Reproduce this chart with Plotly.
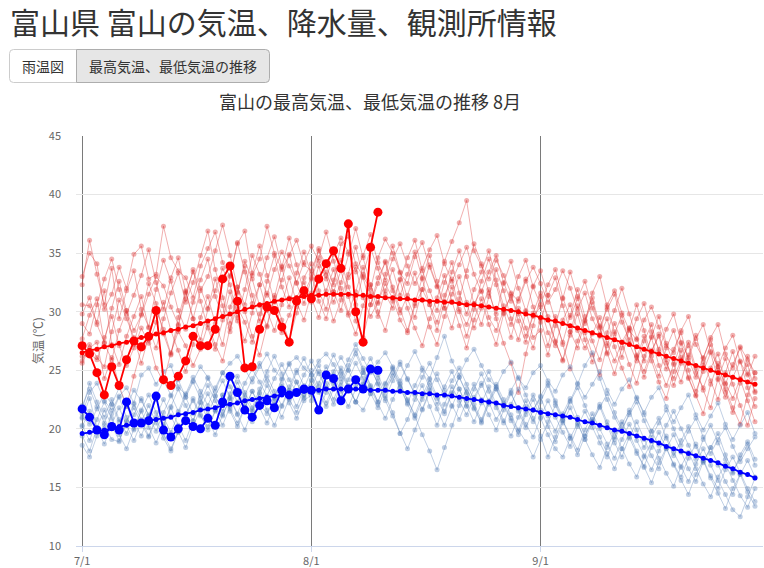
import plotly.graph_objects as go
import pandas as pd

# ---------------- data ----------------
dates = pd.date_range("2025-07-01", "2025-09-30", freq="D")  # 92 days
tick_dates = ["2025-07-01", "2025-08-01", "2025-09-01"]
tick_labels = ["7/1", "8/1", "9/1"]
y_ticks = [10, 15, 20, 25, 30, 35, 40, 45]

# normal (平年値) max / min
normal_max = [26.5, 26.7, 26.8, 27.0, 27.1, 27.3, 27.4, 27.6, 27.8, 27.9, 28.1, 28.2, 28.4, 28.5, 28.7, 28.8,
              29.0, 29.2, 29.4, 29.6, 29.8, 30.0, 30.2, 30.4, 30.6, 30.7, 30.9, 31.0, 31.1, 31.2, 31.3,
              31.4, 31.4, 31.5, 31.5, 31.5, 31.5, 31.4, 31.4, 31.3, 31.3, 31.2, 31.2, 31.1, 31.1, 31.0,
              31.0, 30.9, 30.9, 30.8, 30.8, 30.7, 30.6, 30.6, 30.5, 30.4, 30.3, 30.2, 30.1, 30.0, 29.8, 29.7,
              29.5, 29.3, 29.2, 29.0, 28.8, 28.6, 28.4, 28.2, 28.0, 27.8, 27.6, 27.4, 27.2, 27.0, 26.8,
              26.6, 26.4, 26.2, 26.0, 25.8, 25.6, 25.4, 25.2, 25.0, 24.8, 24.6, 24.4, 24.2, 24.0, 23.8]
normal_min = [19.6, 19.7, 19.8, 19.9, 20.0, 20.2, 20.3, 20.4, 20.5, 20.7, 20.8, 20.9, 21.0, 21.2, 21.3, 21.4,
              21.6, 21.7, 21.8, 22.0, 22.1, 22.2, 22.4, 22.5, 22.6, 22.7, 22.8, 22.9, 23.0, 23.1, 23.2,
              23.3, 23.3, 23.4, 23.4, 23.4, 23.4, 23.4, 23.4, 23.3, 23.3, 23.3, 23.2, 23.2, 23.1, 23.1,
              23.0, 23.0, 22.9, 22.9, 22.8, 22.7, 22.6, 22.5, 22.4, 22.3, 22.2, 22.0, 21.9, 21.8, 21.7, 21.6,
              21.4, 21.3, 21.2, 21.1, 21.0, 20.8, 20.6, 20.5, 20.3, 20.1, 19.9, 19.8, 19.6, 19.4, 19.2,
              19.0, 18.8, 18.5, 18.3, 18.1, 17.9, 17.7, 17.5, 17.3, 17.1, 16.8, 16.6, 16.3, 16.1, 15.8]

# current year (7/1 - 8/10)
cur_max = [27.1, 26.4, 24.8, 22.9, 25.3, 23.7, 25.9, 27.5, 27.0, 27.9, 30.1, 24.2, 23.7, 24.5, 25.8, 27.9,
           27.1, 27.1, 28.5, 32.8, 33.9, 30.9, 25.2, 25.3, 28.5, 30.4, 30.1, 28.7, 27.4, 30.9, 31.8,
           31.1, 32.8, 34.1, 35.2, 33.7, 37.5, 30.0, 27.4, 35.5, 38.5]
cur_min = [21.7, 21.0, 19.9, 19.5, 20.2, 19.9, 22.3, 20.5, 20.5, 20.7, 22.8, 19.9, 19.3, 20.0, 20.7, 20.2,
           20.0, 20.9, 20.3, 22.3, 24.5, 23.1, 21.6, 21.0, 22.0, 22.4, 21.8, 23.3, 22.9, 23.1, 23.4,
           23.3, 21.6, 24.6, 24.3, 22.4, 23.4, 24.2, 23.4, 25.1, 25.0]

# past years max
max_2016 = [33.0, 35.0, 34.1, 30.2, 31.5, 33.8, 32.0, 34.9, 35.6, 32.8, 33.2, 37.3, 34.6, 33.5, 32.9, 31.2,
            33.9, 35.4, 36.8, 34.2, 33.0, 35.8, 36.9, 33.1, 34.5, 37.3, 35.0, 33.6, 34.8, 36.1, 34.0,
            33.5, 35.2, 34.0, 32.3, 35.8, 36.4, 34.1, 33.0, 31.9, 34.6, 36.2, 35.0, 33.3, 32.4, 34.7,
            35.9, 33.8, 32.1, 34.3, 36.0, 37.6, 39.5, 35.2, 33.9, 32.8, 34.4, 33.1, 31.6, 30.9, 32.6, 33.8,
            32.4, 30.8, 31.9, 33.5, 32.0, 30.2, 31.6, 29.4, 28.1, 30.6, 31.8, 29.9, 28.4, 27.6, 29.3,
            30.4, 28.7, 27.1, 26.5, 28.4, 29.6, 27.2, 26.0, 27.8, 28.9, 26.4, 25.2, 27.0, 25.9, 24.8]
max_2017 = [25.6, 26.9, 27.4, 24.3, 26.1, 23.7, 21.9, 24.5, 26.8, 27.6, 25.2, 24.0, 26.5, 28.3, 27.1, 25.4,
            26.8, 28.9, 27.2, 25.8, 28.6, 30.4, 29.1, 27.4, 29.8, 31.6, 30.3, 28.2, 29.7, 31.2, 32.5,
            30.8, 32.6, 33.4, 31.7, 30.1, 32.9, 33.8, 31.2, 29.6, 30.8, 32.4, 31.1, 29.3, 28.2, 30.5,
            31.9, 30.6, 29.1, 31.4, 32.8, 30.2, 28.9, 30.7, 31.8, 29.5, 28.4, 30.1, 31.3, 29.8, 27.9, 29.6,
            30.4, 28.2, 27.1, 29.3, 30.6, 28.4, 26.9, 28.1, 29.5, 27.3, 25.8, 27.4, 28.6, 26.2, 24.9,
            26.7, 27.9, 25.6, 24.3, 25.9, 27.1, 24.8, 23.5, 25.2, 26.4, 23.9, 22.6, 24.3, 25.5, 23.1]
max_2018 = [29.8, 31.2, 28.9, 27.4, 30.3, 32.6, 30.1, 28.4, 29.7, 31.5, 33.0, 32.2, 30.4, 28.9, 31.6, 33.4,
            32.0, 30.3, 31.8, 33.7, 32.3, 29.5, 31.9, 34.8, 33.2, 31.4, 33.6, 35.1, 33.9, 32.5, 34.2,
            35.6, 34.3, 32.8, 34.9, 36.3, 35.1, 33.4, 34.8, 36.6, 34.2, 32.7, 34.5, 35.8, 33.9, 32.4,
            33.7, 35.3, 36.5, 34.1, 32.6, 34.0, 35.5, 33.2, 31.7, 33.4, 34.8, 32.5, 30.9, 33.0, 34.4, 32.1,
            30.6, 32.3, 33.6, 31.2, 29.5, 31.1, 32.6, 30.3, 28.7, 30.2, 31.5, 29.1, 27.6, 29.4, 30.7,
            28.3, 26.8, 28.5, 29.8, 27.4, 26.1, 27.7, 28.9, 26.6, 25.3, 26.9, 28.0, 25.7, 24.6, 26.2]
max_2019 = [32.3, 36.1, 33.2, 30.6, 33.7, 29.4, 31.8, 33.5, 30.2, 28.7, 31.9, 34.4, 32.6, 30.1, 28.5, 30.8,
            32.7, 34.5, 31.3, 29.6, 33.1, 35.9, 33.4, 30.7, 32.3, 34.6, 36.4, 33.8, 31.2, 30.4, 32.9,
            34.1, 31.8, 30.2, 32.7, 34.4, 32.1, 30.6, 33.2, 35.4, 33.7, 31.5, 30.3, 32.8, 34.6, 36.1,
            33.5, 31.8, 30.1, 32.5, 34.2, 31.6, 29.8, 31.9, 33.4, 35.2, 32.7, 30.5, 28.9, 31.1, 32.8, 30.4,
            29.1, 31.4, 32.9, 30.5, 28.3, 26.9, 29.2, 30.8, 28.6, 26.4, 28.1, 29.7, 27.3, 25.8, 27.5,
            28.9, 26.6, 25.1, 26.8, 28.2, 25.9, 24.4, 26.1, 27.6, 25.3, 23.8, 25.5, 26.9, 24.7, 23.2]
max_2020 = [27.7, 29.7, 31.1, 27.3, 25.9, 28.4, 30.1, 27.2, 29.8, 32.4, 30.7, 28.1, 26.3, 29.5, 31.8, 29.4,
            27.6, 30.2, 32.8, 30.5, 28.3, 31.7, 33.9, 31.4, 29.2, 32.6, 34.8, 32.1, 30.4, 33.3, 35.1,
            33.2, 30.9, 29.4, 31.7, 33.5, 31.3, 29.2, 27.8, 30.6, 32.9, 34.2, 31.8, 29.9, 31.4, 33.3,
            31.0, 28.7, 27.2, 29.6, 31.5, 33.0, 30.8, 28.6, 30.3, 31.9, 29.4, 27.3, 25.6, 23.1, 26.4, 28.8,
            31.3, 29.6, 27.4, 25.9, 28.3, 30.5, 28.2, 26.3, 24.6, 27.1, 29.0, 27.4, 25.5, 23.9, 26.2,
            27.8, 25.4, 23.7, 25.6, 27.3, 25.0, 23.2, 24.9, 26.5, 24.2, 22.7, 24.4, 25.8, 23.5, 21.9]
max_2021 = [30.6, 30.5, 29.1, 31.8, 27.2, 25.5, 27.9, 29.6, 31.3, 28.6, 26.9, 29.4, 31.6, 33.3, 30.8, 32.5,
            34.8, 36.9, 33.6, 31.2, 29.0, 31.6, 34.3, 32.8, 30.5, 28.7, 31.2, 33.9, 36.3, 34.0, 31.6,
            32.9, 35.4, 33.1, 30.8, 32.5, 34.9, 37.1, 34.6, 32.3, 30.7, 33.2, 35.6, 33.4, 31.1, 29.5,
            31.9, 34.0, 32.2, 30.3, 28.6, 31.1, 33.5, 35.8, 34.1, 31.6, 29.8, 32.4, 34.3, 32.0, 30.1, 27.8,
            28.4, 26.3, 28.8, 31.1, 33.4, 31.3, 29.0, 31.6, 33.0, 30.4, 28.3, 26.1, 28.5, 30.6, 28.4,
            26.2, 24.5, 26.9, 28.4, 26.1, 24.3, 22.8, 25.4, 27.2, 25.0, 23.1, 21.4, 23.9, 26.2, 24.3]
max_2022 = [26.2, 26.4, 25.9, 27.8, 29.6, 27.1, 25.4, 26.9, 28.6, 27.3, 29.1, 30.8, 28.4, 26.7, 24.9, 27.2,
            29.5, 31.3, 29.0, 27.2, 30.4, 32.1, 30.0, 27.9, 26.3, 28.8, 31.4, 29.3, 27.5, 29.9, 32.0,
            31.2, 29.5, 31.8, 33.6, 31.4, 29.7, 28.1, 30.5, 32.3, 30.0, 28.4, 30.9, 32.7, 30.3, 28.6,
            27.1, 29.4, 31.2, 33.1, 30.9, 28.8, 26.9, 29.3, 31.1, 28.9, 27.2, 29.8, 31.5, 29.2, 27.4, 29.9,
            31.6, 29.3, 27.5, 25.8, 28.0, 29.8, 27.6, 25.7, 27.9, 29.4, 27.0, 25.2, 23.6, 26.1, 27.9,
            25.8, 24.0, 22.6, 24.9, 26.7, 24.4, 22.9, 21.3, 23.8, 25.6, 23.4, 21.8, 20.4, 22.9, 24.8]
max_2023 = [29.0, 28.1, 30.6, 32.8, 34.5, 31.9, 29.8, 31.4, 33.1, 35.3, 32.5, 30.2, 32.9, 34.6, 31.7, 29.4,
            31.8, 33.0, 35.2, 37.4, 34.8, 32.1, 30.6, 33.3, 35.6, 33.1, 30.8, 32.7, 34.9, 32.4, 30.7,
            32.8, 34.6, 36.8, 34.3, 32.0, 29.9, 31.7, 33.8, 31.5, 29.6, 31.8, 33.6, 31.4, 33.2, 35.1,
            32.8, 30.6, 28.4, 30.9, 33.4, 35.2, 33.0, 30.7, 28.9, 31.3, 33.6, 31.8, 29.4, 27.6, 30.0, 32.2,
            33.5, 31.4, 29.2, 27.4, 29.7, 31.9, 29.6, 27.5, 25.9, 28.2, 30.1, 32.0, 29.8, 27.7, 25.8,
            27.9, 29.6, 27.3, 25.5, 24.0, 26.3, 28.0, 25.7, 24.1, 22.5, 24.8, 26.6, 24.2, 22.4, 20.6]
max_2024 = [25.8, 27.2, 26.1, 25.3, 28.3, 31.0, 29.4, 27.8, 25.6, 27.9, 30.2, 28.5, 26.4, 28.8, 31.1, 33.6,
            30.9, 28.6, 26.8, 29.3, 31.7, 29.2, 27.5, 29.9, 32.3, 30.1, 28.4, 30.6, 32.9, 30.8, 29.3,
            31.6, 33.9, 31.5, 29.2, 31.0, 33.2, 35.5, 32.9, 30.6, 32.4, 34.3, 32.1, 30.2, 28.4, 30.7,
            32.9, 34.8, 32.6, 30.3, 32.1, 30.0, 27.9, 30.2, 32.6, 34.5, 32.3, 29.9, 27.8, 30.3, 28.6, 26.9,
            29.4, 27.1, 29.6, 27.2, 25.1, 27.5, 29.3, 31.2, 28.8, 26.5, 24.7, 26.9, 28.6, 26.3, 24.4,
            26.5, 28.1, 25.9, 23.7, 25.6, 27.4, 25.2, 23.3, 21.8, 24.3, 26.0, 23.8, 22.0, 20.3, 22.6]

# past years min
min_2016 = [21.3, 23.1, 23.9, 22.4, 21.6, 22.8, 23.5, 22.2, 24.6, 25.2, 23.8, 24.9, 25.4, 23.6, 22.9, 24.1,
            25.3, 24.4, 23.2, 24.8, 25.6, 26.2, 25.1, 24.0, 25.3, 26.4, 25.0, 24.3, 25.6, 26.1, 25.2,
            24.6, 25.8, 26.4, 25.5, 24.3, 25.9, 27.2, 26.0, 24.8, 25.7, 26.5, 25.3, 24.1, 25.4, 26.6,
            25.2, 24.3, 26.1, 27.9, 25.8, 24.6, 25.9, 26.8, 25.4, 24.2, 23.6, 24.9, 25.7, 24.3, 23.5, 24.8,
            25.4, 24.1, 23.2, 24.6, 25.3, 23.9, 22.7, 23.8, 24.9, 23.3, 22.1, 23.4, 24.2, 22.6, 21.4,
            22.7, 23.5, 21.9, 20.6, 21.8, 22.9, 21.2, 19.9, 21.1, 22.2, 20.4, 19.1, 20.3, 21.4, 19.6]
min_2017 = [18.6, 17.6, 19.4, 20.3, 19.1, 18.9, 20.6, 21.8, 20.4, 19.3, 20.8, 19.6, 18.3, 19.7, 21.2, 22.4,
            21.1, 20.2, 21.6, 22.9, 21.7, 20.5, 21.8, 23.2, 22.1, 21.3, 22.6, 23.8, 22.5, 21.4, 22.9,
            24.2, 23.1, 21.9, 23.4, 24.7, 23.5, 22.3, 21.6, 23.0, 24.3, 22.8, 21.4, 19.6, 20.8, 22.5,
            23.7, 21.9, 20.3, 22.1, 23.6, 22.4, 21.2, 22.7, 23.9, 22.3, 20.8, 21.9, 23.1, 21.5, 20.1, 21.6,
            22.7, 21.1, 19.8, 21.3, 22.6, 21.0, 19.4, 20.8, 22.1, 20.6, 19.1, 20.4, 21.6, 19.9, 18.4,
            19.8, 20.9, 19.2, 17.7, 19.0, 20.2, 18.5, 17.1, 18.4, 19.6, 17.8, 16.3, 17.5, 18.7, 16.9]
min_2018 = [21.0, 20.4, 21.7, 23.0, 22.1, 20.6, 21.9, 23.3, 22.4, 21.2, 22.8, 24.1, 22.9, 21.5, 23.0, 24.4,
            23.2, 22.0, 23.5, 24.8, 23.6, 22.3, 23.9, 25.1, 24.0, 22.8, 24.3, 25.5, 24.2, 23.1, 24.6,
            25.8, 24.7, 23.4, 24.9, 26.1, 25.0, 23.7, 24.8, 26.0, 24.6, 23.2, 24.5, 25.7, 24.3, 23.0,
            24.4, 25.6, 24.2, 22.8, 24.1, 25.2, 23.8, 22.5, 23.7, 24.9, 23.4, 22.1, 23.3, 24.4, 22.9, 21.6,
            22.8, 23.9, 22.4, 21.0, 22.3, 23.5, 22.0, 20.6, 21.8, 23.0, 21.4, 20.0, 21.2, 22.3, 20.7,
            19.3, 20.5, 21.6, 20.0, 18.6, 19.8, 20.9, 19.3, 17.9, 19.1, 20.1, 18.5, 17.2, 18.3, 19.3]
min_2019 = [20.9, 22.6, 20.1, 19.5, 21.3, 22.7, 21.0, 19.9, 21.6, 22.9, 21.4, 20.2, 21.9, 23.4, 22.0, 20.7,
            22.3, 23.7, 22.4, 21.1, 22.6, 24.0, 22.7, 21.5, 23.1, 24.5, 23.2, 22.0, 23.6, 25.0, 23.7,
            22.4, 23.9, 25.3, 24.0, 22.7, 24.2, 25.6, 24.3, 23.0, 21.8, 23.4, 24.8, 23.5, 22.1, 20.9,
            22.5, 23.9, 22.6, 21.3, 23.0, 24.4, 23.1, 21.8, 20.6, 22.3, 23.6, 22.2, 20.9, 19.8, 21.5, 22.9,
            21.6, 20.2, 18.9, 20.5, 21.8, 20.4, 19.1, 20.6, 21.9, 20.3, 18.8, 17.6, 19.3, 20.6, 19.1,
            17.7, 16.6, 18.3, 19.5, 18.0, 16.6, 15.5, 17.2, 18.4, 16.9, 15.5, 14.4, 16.1, 17.3, 15.9]
min_2020 = [21.6, 23.9, 22.3, 21.0, 22.5, 20.8, 19.6, 21.2, 22.6, 21.1, 19.8, 21.4, 22.8, 24.2, 22.7, 21.3,
            22.9, 24.3, 22.8, 21.5, 23.0, 24.5, 23.1, 21.8, 23.4, 24.9, 26.2, 24.7, 23.3, 24.8, 26.0,
            24.6, 23.2, 24.8, 26.3, 24.9, 23.6, 22.3, 23.8, 25.2, 23.9, 22.6, 24.1, 25.5, 24.2, 22.9,
            21.7, 23.3, 24.7, 23.3, 22.0, 20.8, 22.4, 23.8, 22.5, 21.2, 19.9, 21.6, 23.0, 21.7, 20.4, 19.3,
            21.0, 22.4, 21.0, 19.7, 18.5, 20.2, 21.5, 20.1, 18.8, 17.6, 19.3, 20.6, 19.2, 17.9, 16.8,
            18.4, 19.7, 18.3, 17.0, 15.9, 17.5, 18.7, 17.3, 16.0, 14.9, 16.5, 17.6, 16.2, 14.9, 13.8]
min_2021 = [19.4, 18.1, 20.1, 21.6, 20.3, 19.0, 20.7, 22.1, 20.8, 19.4, 21.0, 22.5, 21.1, 19.7, 18.4, 20.2,
            21.7, 23.0, 21.6, 20.3, 21.9, 23.4, 22.0, 20.6, 22.2, 23.7, 22.4, 21.0, 22.6, 24.0, 22.7,
            23.6, 24.9, 23.5, 22.1, 23.7, 25.0, 26.4, 25.0, 23.6, 22.3, 23.9, 25.2, 23.8, 22.4, 21.1,
            19.5, 18.1, 16.5, 18.4, 20.3, 22.0, 23.4, 22.1, 20.8, 22.4, 23.8, 22.5, 21.2, 19.9, 18.9, 17.6,
            19.1, 20.6, 22.0, 20.7, 19.4, 18.2, 19.9, 21.3, 20.0, 18.7, 17.5, 19.1, 20.4, 19.0, 17.7,
            16.5, 18.1, 19.4, 18.0, 16.7, 15.5, 17.0, 18.3, 16.9, 15.6, 14.4, 13.1, 12.5, 14.2, 15.8]
min_2022 = [20.2, 21.5, 20.0, 18.7, 20.4, 21.8, 20.3, 19.0, 20.6, 22.0, 20.5, 19.2, 18.1, 19.8, 21.2, 22.6,
            21.2, 19.9, 21.5, 22.9, 21.5, 20.2, 21.8, 23.2, 21.8, 20.5, 22.1, 23.6, 22.2, 20.9, 22.4,
            22.9, 21.6, 23.1, 24.6, 23.2, 21.9, 23.4, 24.8, 23.4, 22.1, 20.9, 22.5, 23.9, 22.5, 21.2,
            22.8, 24.2, 22.8, 21.5, 23.1, 24.4, 23.0, 21.7, 20.5, 22.1, 23.4, 22.0, 20.7, 19.5, 21.2, 22.5,
            20.9, 19.5, 18.3, 17.6, 19.2, 20.5, 19.1, 17.8, 16.7, 18.4, 19.7, 18.3, 17.0, 15.9, 17.6,
            18.9, 17.5, 16.2, 15.1, 16.8, 18.0, 16.6, 15.3, 14.2, 15.9, 17.0, 15.6, 14.3, 13.3, 14.9]
min_2023 = [22.0, 23.4, 21.9, 20.5, 22.1, 23.5, 22.0, 20.6, 19.4, 21.1, 22.5, 21.0, 19.7, 21.3, 22.7, 24.0,
            22.6, 21.2, 22.8, 24.1, 22.7, 21.3, 22.9, 24.3, 25.6, 24.1, 22.7, 24.2, 25.5, 24.0, 22.6,
            24.1, 25.4, 23.9, 22.5, 24.0, 25.4, 26.7, 25.2, 23.7, 22.3, 23.8, 25.1, 23.6, 22.2, 23.7,
            25.0, 23.5, 22.1, 23.6, 24.9, 23.4, 21.9, 23.4, 24.7, 23.2, 21.8, 20.5, 22.1, 23.4, 21.9, 20.6,
            22.3, 23.7, 22.2, 20.8, 22.4, 23.8, 25.4, 26.5, 24.3, 22.5, 21.0, 19.8, 21.4, 22.7, 21.2,
            19.8, 18.6, 20.3, 21.5, 20.0, 18.6, 17.4, 19.1, 20.3, 18.8, 17.4, 16.2, 17.8, 18.9, 17.4]
min_2024 = [20.3, 19.0, 20.8, 22.3, 20.9, 19.5, 18.3, 20.0, 21.5, 20.1, 18.8, 20.4, 21.8, 20.3, 19.0, 20.7,
            22.2, 20.8, 19.5, 21.2, 22.6, 21.2, 19.9, 21.6, 23.0, 21.6, 20.3, 21.9, 23.3, 21.9, 23.5,
            25.0, 23.6, 22.2, 23.8, 25.2, 23.7, 22.3, 23.9, 25.3, 23.8, 22.4, 21.1, 19.6, 18.3, 19.9,
            21.6, 23.1, 21.7, 20.3, 21.9, 23.4, 22.0, 20.6, 22.2, 23.6, 22.1, 20.7, 19.4, 21.0, 22.4, 20.9,
            19.4, 17.6, 19.3, 20.7, 19.2, 17.8, 19.4, 20.8, 19.3, 17.9, 16.6, 18.3, 19.6, 18.1, 16.7,
            15.4, 17.1, 18.4, 16.9, 15.6, 14.4, 16.1, 17.3, 15.8, 14.5, 13.2, 14.9, 16.1, 14.6, 13.4]

past_max = [max_2016, max_2017, max_2018, max_2019, max_2020, max_2021, max_2022, max_2023, max_2024]
past_min = [min_2016, min_2017, min_2018, min_2019, min_2020, min_2021, min_2022, min_2023, min_2024]

# ---------------- geometry (screen pixels -> paper) ----------------
W, H = 764, 568
PL, PT, PR, PB = 76, 136, 763, 546          # plot area in pixels
PW, PH = PR - PL, PB - PT


def fx(x):
    return (x - PL) / PW


def fy(y):
    return (PB - y) / PH


FONT = "Noto Sans CJK JP"
PAST_MAX = "rgba(220,55,55,0.40)"
PAST_MIN = "rgba(90,130,185,0.38)"

fig = go.Figure()

for v in past_max:
    fig.add_trace(go.Scatter(x=dates[:len(v)], y=v, mode="lines+markers",
                             line=dict(color=PAST_MAX, width=1),
                             marker=dict(color=PAST_MAX, size=5),
                             hoverinfo="skip", showlegend=False))
for v in past_min:
    fig.add_trace(go.Scatter(x=dates[:len(v)], y=v, mode="lines+markers",
                             line=dict(color=PAST_MIN, width=1),
                             marker=dict(color=PAST_MIN, size=5),
                             hoverinfo="skip", showlegend=False))

fig.add_trace(go.Scatter(x=dates[:len(normal_max)], y=normal_max, mode="lines+markers",
                         line=dict(color="#ff0000", width=1.8), marker=dict(color="#ff0000", size=5),
                         showlegend=False))
fig.add_trace(go.Scatter(x=dates[:len(normal_min)], y=normal_min, mode="lines+markers",
                         line=dict(color="#0000ff", width=1.8), marker=dict(color="#0000ff", size=5),
                         showlegend=False))
fig.add_trace(go.Scatter(x=dates[:len(cur_max)], y=cur_max, mode="lines+markers",
                         line=dict(color="#ff0000", width=1.8), marker=dict(color="#ff0000", size=9),
                         showlegend=False))
fig.add_trace(go.Scatter(x=dates[:len(cur_min)], y=cur_min, mode="lines+markers",
                         line=dict(color="#0000ff", width=1.8), marker=dict(color="#0000ff", size=9),
                         showlegend=False))


def rounded(x0, y0, x1, y1, r, left=True, right=True):
    p = []
    if left:
        p.append(f"M {fx(x0)},{fy(y0 + r)} Q {fx(x0)},{fy(y0)} {fx(x0 + r)},{fy(y0)}")
    else:
        p.append(f"M {fx(x0)},{fy(y0)}")
    if right:
        p.append(f"L {fx(x1 - r)},{fy(y0)} Q {fx(x1)},{fy(y0)} {fx(x1)},{fy(y0 + r)}")
        p.append(f"L {fx(x1)},{fy(y1 - r)} Q {fx(x1)},{fy(y1)} {fx(x1 - r)},{fy(y1)}")
    else:
        p.append(f"L {fx(x1)},{fy(y0)} L {fx(x1)},{fy(y1)}")
    if left:
        p.append(f"L {fx(x0 + r)},{fy(y1)} Q {fx(x0)},{fy(y1)} {fx(x0)},{fy(y1 - r)} Z")
    else:
        p.append(f"L {fx(x0)},{fy(y1)} Z")
    return " ".join(p)


shapes = [
    dict(type="path", xref="paper", yref="paper", path=rounded(9.5, 49.5, 76.5, 82.5, 4, True, False),
         fillcolor="#ffffff", line=dict(color="#cccccc", width=1)),
    dict(type="path", xref="paper", yref="paper", path=rounded(76.5, 49.5, 269.5, 82.5, 4, False, True),
         fillcolor="#e6e6e6", line=dict(color="#adadad", width=1)),
]

annotations = [
    dict(text="富山県 富山の気温、降水量、観測所情報", x=fx(8), y=fy(21), xref="paper", yref="paper",
         xanchor="left", yanchor="middle", showarrow=False, font=dict(family=FONT, size=30, color="#333333")),
    dict(text="雨温図", x=fx(43), y=fy(66), xref="paper", yref="paper", xanchor="center", yanchor="middle",
         showarrow=False, font=dict(family=FONT, size=14, color="#333333")),
    dict(text="最高気温、最低気温の推移", x=fx(173), y=fy(66), xref="paper", yref="paper", xanchor="center",
         yanchor="middle", showarrow=False, font=dict(family=FONT, size=14, color="#333333")),
    dict(text="富山の最高気温、最低気温の推移 8月", x=fx(370), y=fy(101), xref="paper", yref="paper",
         xanchor="center", yanchor="middle", showarrow=False, font=dict(family=FONT, size=18, color="#333333")),
    dict(text="気温 (℃)", x=fx(37), y=fy(341), xref="paper", yref="paper", xanchor="center", yanchor="middle",
         textangle=-90, showarrow=False, font=dict(family=FONT, size=12, color="#666666")),
]

lens = [len(v) for v in past_max + past_min + [normal_max, normal_min]]
if any(n != 92 for n in lens):
    annotations.append(dict(text="LEN " + str(lens), x=0.5, y=0.5, xref="paper", yref="paper",
                            showarrow=False, font=dict(size=10, color="black")))

fig.update_layout(
    width=W, height=H, autosize=False,
    margin=dict(l=PL, r=W - PR, t=PT, b=H - PB, pad=0),
    paper_bgcolor="white", plot_bgcolor="white",
    font=dict(family=FONT, size=11, color="#666666"),
    shapes=shapes, annotations=annotations,
    showlegend=False,
    xaxis=dict(type="date", range=["2025-06-30 04:00", "2025-10-01 02:00"],
               tickmode="array", tickvals=tick_dates, ticktext=tick_labels,
               showgrid=True, gridcolor="#7a7a7a", gridwidth=1,
               showline=True, linecolor="#ccd6eb", linewidth=1,
               ticks="outside", ticklen=5, tickcolor="#ccd6eb",
               tickfont=dict(family=FONT, size=11, color="#666666"),
               zeroline=False, fixedrange=True, automargin=False),
    yaxis=dict(range=[10, 45], tickmode="array", tickvals=y_ticks,
               showgrid=True, gridcolor="#e6e6e6", gridwidth=1,
               showline=False, zeroline=False, ticks="",
               ticklabelstandoff=14,
               tickfont=dict(family=FONT, size=11, color="#666666"), fixedrange=True, automargin=False),
)

# remove the browser's default 8px page margin so the 764x568 figure fills the window exactly
fig.write_html("out.html",
               config={"displayModeBar": False, "staticPlot": True},
               post_script="document.body.style.margin='0px';document.body.style.overflow='hidden';")
